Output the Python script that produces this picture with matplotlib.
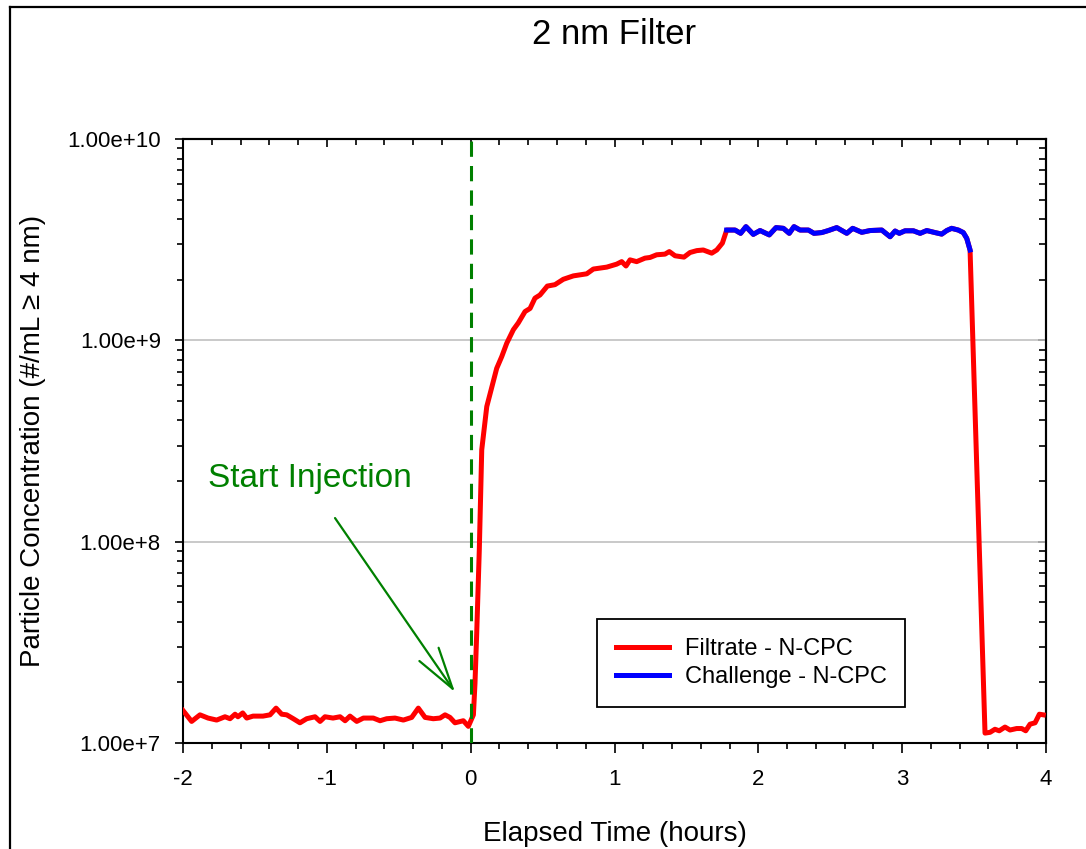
import matplotlib
matplotlib.use("Agg")
import matplotlib.pyplot as plt
from matplotlib.ticker import MultipleLocator, LogLocator, FuncFormatter, NullFormatter
from matplotlib.lines import Line2D
import numpy as np

plt.rcParams['font.family'] = ['Liberation Sans', 'DejaVu Sans']
plt.rcParams['axes.unicode_minus'] = False

# Filtrate before the challenge is reached (hours, #/mL)
pre_time = [-2.0, -1.940, -1.882, -1.826, -1.766, -1.708, -1.673, -1.638, -1.618, -1.585,
            -1.557, -1.513, -1.444, -1.395, -1.353, -1.314, -1.279, -1.233, -1.187, -1.140,
            -1.082, -1.047, -1.013, -0.957, -0.908, -0.873, -0.839, -0.792, -0.746, -0.677,
            -0.630, -0.584, -0.526, -0.468, -0.410, -0.364, -0.317, -0.260, -0.213, -0.178,
            -0.144, -0.109, -0.051, -0.016, 0.019, 0.030, 0.042, 0.060, 0.077, 0.112,
            0.181, 0.216, 0.251, 0.297, 0.331, 0.378, 0.413, 0.447, 0.482, 0.533,
            0.586, 0.644, 0.714, 0.807, 0.853, 0.946, 1.015, 1.050, 1.080, 1.108,
            1.154, 1.212, 1.247, 1.293, 1.351, 1.381, 1.421, 1.483, 1.525, 1.572,
            1.617, 1.676, 1.711, 1.750]
pre_conc = [1.45e7, 1.28e7, 1.38e7, 1.33e7, 1.30e7, 1.35e7, 1.32e7, 1.39e7, 1.35e7, 1.41e7,
            1.33e7, 1.36e7, 1.36e7, 1.38e7, 1.49e7, 1.39e7, 1.38e7, 1.32e7, 1.26e7, 1.32e7,
            1.35e7, 1.28e7, 1.35e7, 1.33e7, 1.35e7, 1.29e7, 1.36e7, 1.28e7, 1.33e7, 1.33e7,
            1.29e7, 1.32e7, 1.33e7, 1.30e7, 1.34e7, 1.49e7, 1.34e7, 1.32e7, 1.33e7, 1.38e7,
            1.34e7, 1.26e7, 1.29e7, 1.21e7, 1.38e7, 1.98e7, 3.51e7, 9.1e7, 2.86e8, 4.69e8,
            7.26e8, 8.3e8, 9.68e8, 1.13e9, 1.22e9, 1.39e9, 1.44e9, 1.62e9, 1.68e9, 1.86e9,
            1.89e9, 2.01e9, 2.09e9, 2.14e9, 2.26e9, 2.31e9, 2.39e9, 2.46e9, 2.34e9, 2.51e9,
            2.46e9, 2.56e9, 2.58e9, 2.66e9, 2.68e9, 2.76e9, 2.63e9, 2.59e9, 2.73e9, 2.79e9,
            2.81e9, 2.71e9, 2.81e9, 3.04e9]

# Challenge segment
challenge_time = [1.780, 1.838, 1.877, 1.914, 1.965, 2.012, 2.076, 2.123, 2.174, 2.215,
                  2.248, 2.290, 2.348, 2.387, 2.441, 2.487, 2.545, 2.615, 2.656, 2.719,
                  2.777, 2.858, 2.916, 2.951, 2.980, 3.020, 3.078, 3.125, 3.171, 3.228,
                  3.275, 3.310, 3.344, 3.390, 3.425, 3.449, 3.472]
challenge_conc = [3.53e9, 3.53e9, 3.40e9, 3.67e9, 3.36e9, 3.51e9, 3.34e9, 3.63e9, 3.60e9, 3.40e9,
                  3.67e9, 3.53e9, 3.53e9, 3.40e9, 3.43e9, 3.51e9, 3.63e9, 3.40e9, 3.60e9, 3.44e9,
                  3.51e9, 3.53e9, 3.27e9, 3.49e9, 3.40e9, 3.50e9, 3.50e9, 3.40e9, 3.51e9, 3.43e9,
                  3.37e9, 3.51e9, 3.60e9, 3.53e9, 3.43e9, 3.21e9, 2.81e9]

# Filtrate after the challenge is stopped
post_time = [3.576, 3.611, 3.645, 3.675, 3.715, 3.750, 3.796, 3.831, 3.859, 3.889, 3.924, 3.954, 3.981]
post_conc = [1.12e7, 1.13e7, 1.17e7, 1.15e7, 1.20e7, 1.16e7, 1.18e7, 1.18e7, 1.15e7, 1.24e7, 1.26e7, 1.39e7, 1.38e7]

filtrate_time = pre_time + challenge_time + post_time
filtrate_conc = pre_conc + challenge_conc + post_conc

fig = plt.figure(figsize=(10.86, 8.49), dpi=100)
ax = fig.add_axes([183/1086, 1 - 743/849, (1046-183)/1086, (743-139)/849])

ax.plot(filtrate_time, filtrate_conc, color='#ff0000', lw=3.6, label='Filtrate - N-CPC', solid_joinstyle='round', zorder=3)
ax.plot(challenge_time, challenge_conc, color='#0000ff', lw=3.6, label='Challenge - N-CPC', solid_joinstyle='round', zorder=4)

# Injection marker
ax.axvline(0, color='#008000', lw=2.2, linestyle=(0, (5, 3)), zorder=5)
ax.annotate('', xy=(-0.109, 1.79e7), xytext=(-0.943, 1.31e8),
            arrowprops=dict(arrowstyle='->,head_length=1.25,head_width=0.35', mutation_scale=24,
                            color='#008000', lw=1.6, shrinkA=0, shrinkB=0))
ax.text(-1.117, 2.07e8, 'Start Injection', color='#008000', fontsize=24, ha='center', va='center')

ax.set_yscale('log')
ax.set_xlim(-2, 4)
ax.set_ylim(1e7, 1e10)
ax.xaxis.set_major_locator(MultipleLocator(1))
ax.xaxis.set_minor_locator(MultipleLocator(0.2))
ax.yaxis.set_major_locator(LogLocator(base=10, numticks=10))
ax.yaxis.set_minor_locator(LogLocator(base=10, subs=np.arange(2, 10), numticks=20))
ax.yaxis.set_minor_formatter(NullFormatter())

def sci_fmt(v, pos):
    e = int(round(np.log10(v)))
    return '%.2fe+%d' % (v / 10**e, e)

ax.yaxis.set_major_formatter(FuncFormatter(sci_fmt))
ax.grid(axis='y', which='major', color='#c0c0c0', lw=1.2)
ax.set_axisbelow(True)

for s in ax.spines.values():
    s.set_linewidth(1.5)
ax.tick_params(which='both', direction='out', labelsize=16, width=1.2)
ax.tick_params(axis='y', which='major', length=6, pad=10)
ax.tick_params(axis='y', which='minor', length=4)
ax.tick_params(axis='x', which='major', length=7, pad=12)
ax.tick_params(axis='x', which='minor', length=4.5)

# inward ticks on top and right
top = ax.secondary_xaxis('top')
top.xaxis.set_major_locator(MultipleLocator(1))
top.xaxis.set_minor_locator(MultipleLocator(0.2))
top.tick_params(which='both', direction='in', labeltop=False, width=1.2)
top.tick_params(which='major', length=6)
top.tick_params(which='minor', length=4)
top.spines['top'].set_linewidth(1.5)
right = ax.secondary_yaxis('right')
right.yaxis.set_major_locator(LogLocator(base=10, numticks=10))
right.yaxis.set_minor_locator(LogLocator(base=10, subs=np.arange(2, 10), numticks=20))
right.tick_params(which='both', direction='in', labelright=False, width=1.2)
right.tick_params(which='major', length=6)
right.tick_params(which='minor', length=5)
right.spines['right'].set_linewidth(1.5)

ax.set_xlabel('Elapsed Time (hours)', fontsize=20, labelpad=22)
ax.set_ylabel('Particle Concentration (#/mL \u2265 4 nm)', fontsize=20, labelpad=15)
fig.text(614.5/1086, 1 - 35/849, '2 nm Filter', fontsize=25, ha='center', va='center')

leg = ax.legend(loc='upper left', bbox_to_anchor=(0.48, 0.205), borderaxespad=0, fontsize=17,
                frameon=True, fancybox=False, edgecolor='black', framealpha=1,
                handlelength=2.25, handletextpad=0.65, labelspacing=0.25, borderpad=0.8)
leg.get_frame().set_linewidth(1.3)

# outer frame around the chart area
fig.add_artist(Line2D([10/1086, 10/1086], [0, 1 - 6.5/849], color='black', lw=1.6))
fig.add_artist(Line2D([10/1086, 1], [1 - 6.5/849, 1 - 6.5/849], color='black', lw=1.6))

fig.savefig('out.png', dpi=100)
